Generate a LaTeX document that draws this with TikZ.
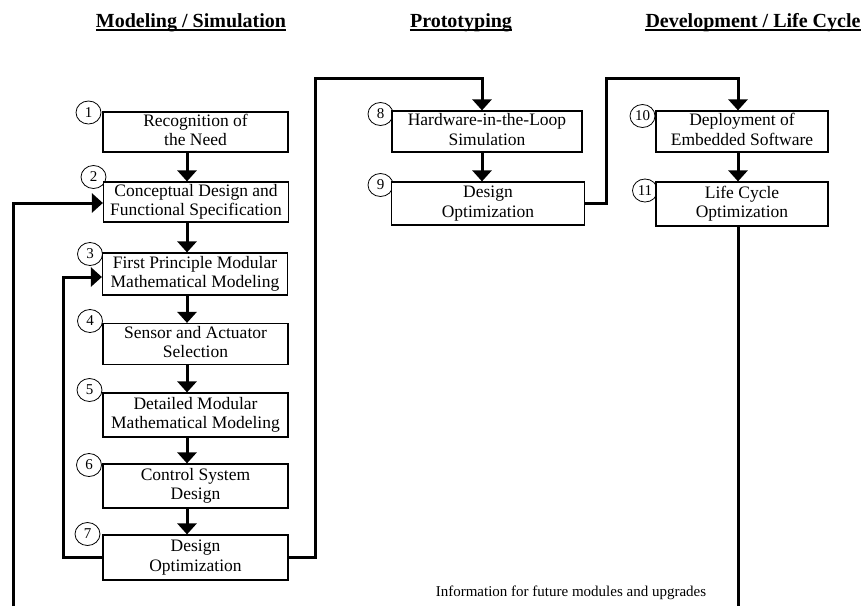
\documentclass[tikz,border=0pt]{standalone}
\usepackage{fontspec}
\setmainfont{Liberation Serif}
\usetikzlibrary{arrows.meta,shapes.geometric,calc}
\newcommand\twoln[2]{\raisebox{-2pt}{\begin{tabular}{@{}c@{}}#1\\#2\end{tabular}}}
\begin{document}
\begin{tikzpicture}[x=1pt,y=-1pt,
  box/.style={draw,line width=1.2pt,fill=white,minimum width=185pt,minimum height=41pt,inner sep=0pt,align=center,font=\fontsize{17.5}{19.5}\selectfont},
  num/.style={draw,ellipse,line width=0.8pt,fill=white,minimum width=25pt,minimum height=23pt,inner sep=0pt,font=\fontsize{15}{15}\selectfont},
  conn/.style={line width=3pt},
  arr/.style={conn,-{Triangle[length=11pt,width=19pt]}},
  hdr/.style={anchor=base,inner sep=0pt,font=\fontsize{20}{20}\selectfont\bfseries},
  uline/.style={line width=1.6pt},
]
\useasboundingbox (0,0) rectangle (864,606);

% headers
\node[hdr] (h1) at (191,27) {Modeling / Simulation};
\node[hdr] (h2) at (461,27) {Prototyping};
\node[hdr] (h3) at (753,27) {Development / Life Cycle};
\foreach \h in {h1,h2,h3}{
  \draw[uline] ([yshift=-3pt]\h.base west) -- ([yshift=-3pt]\h.base east);
}

% number circles
\node[num] (c1) at (88.5,112.5) {1};
\node[num] (c2) at (93.5,177) {2};
\node[num] (c3) at (90,254) {3};
\node[num] (c4) at (90,321) {4};
\node[num] (c5) at (89.5,390) {5};
\node[num] (c6) at (89,465) {6};
\node[num] (c7) at (87.5,534) {7};
\node[num] (c8) at (380.5,114) {8};
\node[num] (c9) at (380.5,185) {9};
\node[num] (c10) at (642.5,116) {10};
\node[num] (c11) at (645,190.5) {11};

% boxes
\node[box,minimum height=40pt] (b1) at (195.5,132) {\twoln{Recognition of}{the Need}};
\node[box,minimum height=40pt] (b2) at (196,202) {\twoln{Conceptual Design and}{Functional Specification}};
\node[box,minimum height=42pt] (b3) at (195,274) {\twoln{First Principle Modular}{Mathematical Modeling}};
\node[box,minimum height=41pt] (b4) at (195.5,344) {\twoln{Sensor and Actuator}{Selection}};
\node[box,minimum height=44pt] (b5) at (195.5,415) {\twoln{Detailed Modular}{Mathematical Modeling}};
\node[box,minimum height=44pt] (b6) at (195.5,486) {\twoln{Control System}{Design}};
\node[box,minimum height=45pt] (b7) at (195.5,557.5) {\twoln{Design}{Optimization}};
\node[box,minimum width=190pt,minimum height=41pt] (b8) at (487,131.5) {\twoln{Hardware-in-the-Loop}{Simulation}};
\node[box,minimum width=193pt,minimum height=43pt] (b9) at (488,203.5) {\twoln{Design}{Optimization}};
\node[box,minimum width=172pt,minimum height=41pt] (b10) at (742,131.5) {\twoln{Deployment of}{Embedded Software}};
\node[box,minimum width=172pt,minimum height=44pt] (b11) at (742,204) {\twoln{Life Cycle}{Optimization}};

% helper coordinates
\coordinate (colA) at (187,0);
\coordinate (colB) at (482,0);
\coordinate (colC) at (738,0);
\coordinate (li) at (63,0);
\coordinate (o1) at (13,606);
\coordinate (r1) at (315,78);
\coordinate (r2) at (606,78);
\coordinate (d1) at (738,606);

% vertical arrows
\draw[arr] (b1.south -| colA) -- (b2.north -| colA);
\draw[arr] (b2.south -| colA) -- (b3.north -| colA);
\draw[arr] (b3.south -| colA) -- (b4.north -| colA);
\draw[arr] (b4.south -| colA) -- (b5.north -| colA);
\draw[arr] (b5.south -| colA) -- (b6.north -| colA);
\draw[arr] (b6.south -| colA) -- (b7.north -| colA);
\draw[arr] (b8.south -| colB) -- (b9.north -| colB);
\draw[arr] (b10.south -| colC) -- (b11.north -| colC);

% loops and transfers
\draw[arr] (o1) |- ([yshift=-1pt]b2.west);
\draw[arr] (b7.west) -- (b7.west -| li) |- ([yshift=-3pt]b3.west);
\draw[arr] (b7.east) -| (r1) -| (b8.north -| colB);
\draw[arr] (b9.east) -| (r2) -| (b10.north -| colC);
\draw[conn] (b11.south -| colC) -- (d1);

% note
\node[anchor=base,inner sep=0pt,font=\fontsize{15}{15}\selectfont] (info) at (571,596) {Information for future modules and upgrades};
\end{tikzpicture}
\end{document}
